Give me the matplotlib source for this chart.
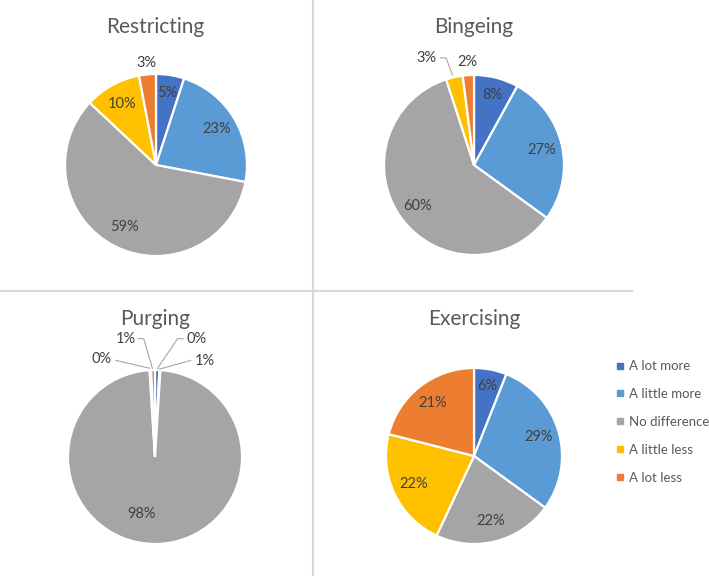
import matplotlib
matplotlib.use("Agg")
import matplotlib.pyplot as plt
from matplotlib.lines import Line2D
import numpy as np

plt.rcParams['font.family'] = ['Lato', 'DejaVu Sans']

# datos (porcentajes)
categorias = ['A lot more', 'A little more', 'No difference', 'A little less', 'A lot less']
restricting = [5, 23, 59, 10, 3]
bingeing = [8, 27, 60, 3, 2]
purging = [0.8, 0.2, 98.0, 0.3, 0.7]
exercising = [6, 29, 22, 22, 21]
titulos = ['Restricting', 'Bingeing', 'Purging', 'Exercising']

colores = ['#4472C4', '#5B9BD5', '#A5A5A5', '#FFC000', '#ED7D31']

W, H = 709, 576
fig = plt.figure(figsize=(W / 100, H / 100), dpi=100)

# centro (px), radio (px), posicion del titulo (px)
paneles = [
    (restricting, (156, 165), 91, (155, 27)),
    (bingeing, (474, 165), 90, (474, 27)),
    (purging, (155, 457), 87, (155, 319)),
    (exercising, (474, 456), 88, (474, 319)),
]

col_label = '#404040'
col_linea = '#A6A6A6'


def ejes(c, r):
    cx, cy = c
    return fig.add_axes([(cx - r) / W, (H - cy - r) / H, 2 * r / W, 2 * r / H])


axs = []
for (vals, c, r, tpos), tit in zip(paneles, titulos):
    ax = ejes(c, r)
    wedges, _ = ax.pie(vals, colors=colores, startangle=90, counterclock=False,
                       wedgeprops=dict(edgecolor='white', linewidth=1.6))
    ax.set_xlim(-1, 1)
    ax.set_ylim(-1, 1)
    ax.set_aspect('equal')
    ax.axis('off')
    fig.text(tpos[0] / W, 1 - tpos[1] / H, tit, ha='center', va='center',
             fontsize=15, color='#595959')
    axs.append((ax, wedges, vals))


def etiqueta(ax, w, v, d=0.77, pos=None):
    if pos is None:
        ang = np.deg2rad((w.theta1 + w.theta2) / 2)
        pos = (d * np.cos(ang), d * np.sin(ang))
    ax.text(pos[0], pos[1], f"{int(v + 0.5)}%", ha='center', va='center',
            fontsize=10.5, color=col_label)


# Restricting
ax, ws, vals = axs[0]
for i, (w, v) in enumerate(zip(ws, vals)):
    etiqueta(ax, w, v, d=1.13 if i == 4 else (0.8 if i == 0 else 0.77))

# Bingeing
ax, ws, vals = axs[1]
for i, (w, v) in enumerate(zip(ws, vals)):
    if i == 3:
        etiqueta(ax, w, v, pos=(-0.53, 1.19))
        ax.plot([-0.37, -0.31, -0.24], [1.19, 1.19, 1.0], color=col_linea, lw=0.8, clip_on=False)
    elif i == 4:
        etiqueta(ax, w, v, d=1.15)
    else:
        etiqueta(ax, w, v, d=0.8 if i == 0 else 0.77)

# Purging
ax, ws, vals = axs[2]
pos_p = [(0.57, 1.10), (0.48, 1.36), (-0.15, -0.66), (-0.61, 1.13), (-0.34, 1.36)]
for w, v, p in zip(ws, vals, pos_p):
    etiqueta(ax, w, v, pos=p)
ax.plot([0.41, 0.05], [1.11, 1.01], color=col_linea, lw=0.8, clip_on=False)
ax.plot([0.33, 0.26, 0.03], [1.36, 1.36, 1.02], color=col_linea, lw=0.8, clip_on=False)
ax.plot([-0.45, -0.06], [1.11, 1.02], color=col_linea, lw=0.8, clip_on=False)
ax.plot([-0.19, -0.13, -0.03], [1.36, 1.36, 1.02], color=col_linea, lw=0.8, clip_on=False)

# Exercising
ax, ws, vals = axs[3]
for i, (w, v) in enumerate(zip(ws, vals)):
    etiqueta(ax, w, v, d=0.81 if i == 0 else 0.76)

# lineas divisorias
fig.add_artist(Line2D([313 / W, 313 / W], [0, 1], transform=fig.transFigure,
                      color='#D9D9D9', lw=1.5))
fig.add_artist(Line2D([0, 632 / W], [1 - 291 / H, 1 - 291 / H], transform=fig.transFigure,
                      color='#D9D9D9', lw=1.5))

# leyenda
handles = [Line2D([], [], marker='s', linestyle='none', markersize=4, color=c) for c in colores]
fig.legend(handles, categorias, loc='upper left', bbox_to_anchor=(609 / W, 1 - 355 / H),
           frameon=False, fontsize=9.5, labelcolor='#595959', handlelength=0.8,
           handletextpad=0.3, labelspacing=1.2, borderaxespad=0)

fig.savefig('out.png', dpi=100)
